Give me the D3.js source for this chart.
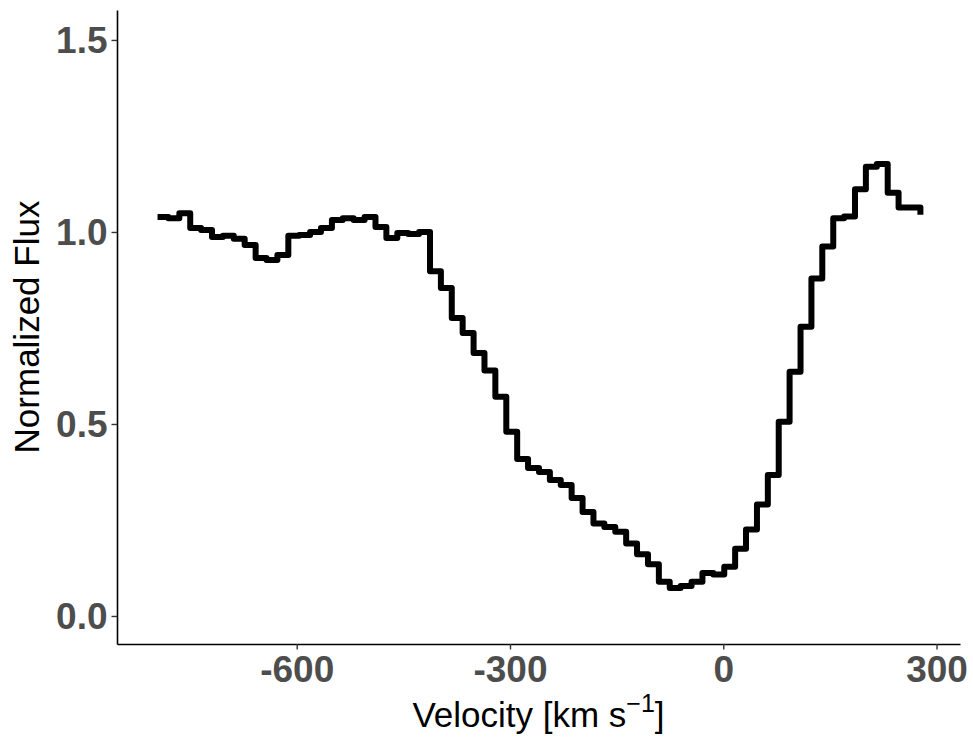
<!DOCTYPE html>
<html>
<head>
<meta charset="utf-8">
<script src="https://cdn.jsdelivr.net/npm/d3@7"></script>
<style>
  html, body { margin: 0; padding: 0; background: #ffffff; }
  svg { display: block; }
</style>
</head>
<body>
<svg id="chart" width="973" height="737"></svg>
<script>
// ---- data ----
const velocity = [
  -795.8, -780.5, -765.1, -749.8, -734.5, -719.2, -703.8, -688.5, -673.2, -657.8,
  -642.5, -627.2, -611.8, -596.5, -581.2, -565.9, -550.5, -535.2, -519.9, -504.5,
  -489.2, -473.9, -458.5, -443.2, -427.9, -412.5, -397.2, -381.9, -366.6, -351.2,
  -335.9, -320.6, -305.2, -289.9, -274.6, -259.2, -243.9, -228.6, -213.3, -197.9,
  -182.6, -167.3, -151.9, -136.6, -121.3, -105.9, -90.6, -75.3, -60.0, -44.6,
  -29.3, -14.0, 1.4, 16.7, 32.0, 47.4, 62.7, 78.0, 93.3, 108.7,
  124.0, 139.3, 154.7, 170.0, 185.3, 200.6, 216.0, 231.3, 246.6, 262.0,
  277.3
];
const flux = [
  1.039, 1.036, 1.049, 1.010, 1.005, 0.987, 0.990, 0.982, 0.966, 0.932,
  0.927, 0.940, 0.990, 0.992, 1.000, 1.010, 1.031, 1.036, 1.031, 1.039,
  1.013, 0.984, 0.997, 0.995, 1.000, 0.898, 0.854, 0.776, 0.737, 0.685,
  0.639, 0.571, 0.480, 0.409, 0.385, 0.375, 0.354, 0.341, 0.307, 0.271,
  0.241, 0.232, 0.219, 0.189, 0.161, 0.135, 0.089, 0.073, 0.078, 0.089,
  0.112, 0.108, 0.128, 0.175, 0.225, 0.290, 0.367, 0.506, 0.636, 0.753,
  0.879, 0.962, 1.036, 1.040, 1.111, 1.170, 1.177, 1.102, 1.064, 1.064,
  1.045
];
const xTicks = [-600, -300, 0, 300];
const xTickLabels = ["-600", "-300", "0", "300"];
const yTicks = [0, 0.5, 1.0, 1.5];
const yTickLabels = ["0.0", "0.5", "1.0", "1.5"];
const xDomain = [-852.8, 333.0];
const yDomain = [-0.073, 1.578];

// ---- layout ----
const svg = d3.select("#chart");
const panel = { left: 117, right: 960, top: 10, bottom: 644 };

const x = d3.scaleLinear().domain(xDomain).range([panel.left, panel.right]);
const y = d3.scaleLinear().domain(yDomain).range([panel.bottom, panel.top]);

const tickFont = "'Liberation Sans', Arial, Helvetica, sans-serif";

// axes
const xAxis = d3.axisBottom(x).tickValues(xTicks)
  .tickFormat((d, i) => xTickLabels[i]).tickSizeInner(5.5).tickSizeOuter(0).tickPadding(4);
const yAxis = d3.axisLeft(y).tickValues(yTicks)
  .tickFormat((d, i) => yTickLabels[i]).tickSizeInner(5.5).tickSizeOuter(0).tickPadding(4);

const gx = svg.append("g").attr("transform", `translate(0,${panel.bottom})`).call(xAxis);
const gy = svg.append("g").attr("transform", `translate(${panel.left},0)`).call(yAxis);

[gx, gy].forEach(g => {
  g.select(".domain").attr("stroke", "#000").attr("stroke-width", 1.6);
  g.selectAll(".tick line").attr("stroke", "#333").attr("stroke-width", 1.4);
  g.selectAll(".tick text")
    .attr("fill", "#4D4D4D")
    .style("font-family", tickFont)
    .style("font-weight", "bold")
    .style("font-size", "37px");
});
gx.selectAll(".tick text").attr("dy", "0.76em");
gy.selectAll(".tick text").attr("dy", "0.35em");

// step line
const line = d3.line()
  .x((d, i) => x(velocity[i]))
  .y((d, i) => y(flux[i]))
  .curve(d3.curveStepAfter);

svg.append("path")
  .datum(flux)
  .attr("d", line)
  .attr("fill", "none")
  .attr("stroke", "#000")
  .attr("stroke-width", 6)
  .attr("stroke-linejoin", "round")
  .attr("stroke-linecap", "butt");

// axis titles
const xt = svg.append("text")
  .attr("x", (panel.left + panel.right) / 2)
  .attr("y", 727)
  .attr("text-anchor", "middle")
  .style("font-family", tickFont)
  .style("font-size", "35px")
  .attr("fill", "#000");
xt.append("tspan").text("Velocity [km s");
xt.append("tspan").text("\u22121").attr("dy", -15).style("font-size", "25px");
xt.append("tspan").text("]").attr("dy", 15);

svg.append("text")
  .attr("transform", `translate(39,${(panel.top + panel.bottom) / 2}) rotate(-90)`)
  .attr("text-anchor", "middle")
  .style("font-family", tickFont)
  .style("font-size", "35px")
  .attr("fill", "#000")
  .text("Normalized Flux");
</script>
</body>
</html>
